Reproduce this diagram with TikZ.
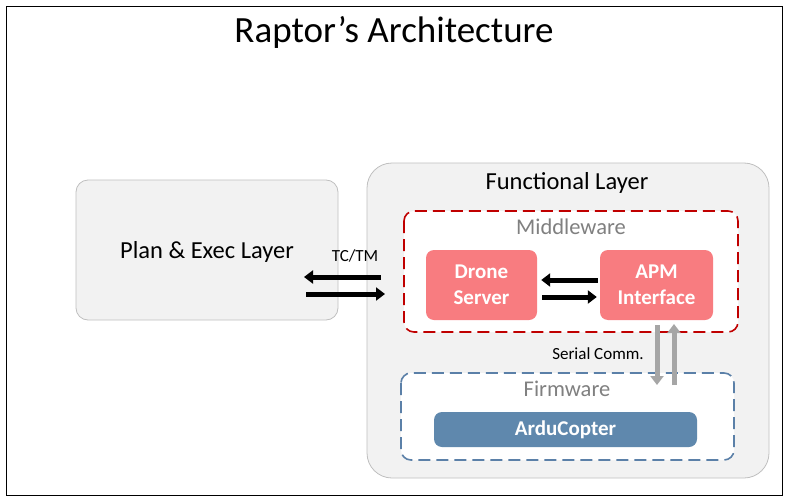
\documentclass[tikz,border=0pt]{standalone}
\usepackage{fontspec}
\setmainfont{Carlito}
\usetikzlibrary{arrows.meta}
\definecolor{boxgray}{HTML}{F2F2F2}
\definecolor{boxedge}{HTML}{BFBFBF}
\definecolor{salmon}{HTML}{F87C80}
\definecolor{mwred}{HTML}{C00000}
\definecolor{fwblue}{HTML}{5B80A8}
\definecolor{ardu}{HTML}{5F88AD}
\definecolor{labgray}{HTML}{808080}
\definecolor{sergray}{HTML}{A6A6A6}
\tikzset{
  layerbox/.style={draw=boxedge, fill=boxgray, line width=0.8pt},
  compbox/.style={fill=salmon, rounded corners=8pt, text=white, font=\fontsize{21}{24}\selectfont\bfseries, align=center, inner sep=0pt},
  blk/.style={line width=5pt, -{Triangle[length=9pt,width=13pt]}},
  gry/.style={draw=sergray, line width=5pt, -{Triangle[length=9pt,width=13pt]}},
  lab/.style={text=labgray, font=\fontsize{22.5}{26}\selectfont},
  dashbox/.style={fill=white, line width=1.6pt, dash pattern=on 12pt off 6pt, rounded corners=10pt},
}
\begin{document}
\begin{tikzpicture}[x=1pt,y=-1pt]
\useasboundingbox (0,0) rectangle (789,503);
\draw[black, line width=0.8pt] (6,6) rectangle (782,495);
\node[font=\fontsize{37}{42}\selectfont] (title) at (394,32) {Raptor’s Architecture};
% Plan & Exec
\draw[layerbox, rounded corners=12pt] (76,180) rectangle (338,320);
\node[font=\fontsize{24.5}{28}\selectfont] (plan) at (207,251.5) {Plan \& Exec Layer};
% Functional layer
\draw[layerbox, rounded corners=25pt] (367,163) rectangle (769,478);
\node[font=\fontsize{24.5}{28}\selectfont] (func) at (567,182.5) {Functional Layer};
% Middleware
\draw[dashbox, draw=mwred] (404,211) rectangle (738,332);
\node[lab] (mw) at (571,227) {Middleware};
\node[compbox, minimum width=111pt, minimum height=70pt] (drone) at (481.5,285) {Drone\\[2pt]Server};
\node[compbox, minimum width=113pt, minimum height=70pt] (apm) at (656.5,285) {APM\\[2pt]Interface};
% Firmware
\draw[dashbox, draw=fwblue] (401,373) rectangle (734,460);
\node[lab] (fw) at (567,389) {Firmware};
\node[fill=ardu, rounded corners=8pt, text=white, font=\fontsize{21}{24}\selectfont\bfseries, minimum width=263pt, minimum height=35pt, inner sep=0pt] (ardu) at (565.5,429.5) {ArduCopter};
% TC/TM arrows
\node[font=\fontsize{17}{20}\selectfont] (tctm) at (355,256) {TC/TM};
\coordinate (a1s) at (381,277);
\coordinate (a1e) at (304,277);
\coordinate (a2s) at (306,294);
\coordinate (a2e) at (385,294);
\draw[blk] (a1s) -- (a1e);
\draw[blk] (a2s) -- (a2e);
% drone <-> apm
\draw[blk] ([xshift=-2pt,yshift=5pt]apm.west) -- ([xshift=4pt,yshift=5pt]drone.east);
\draw[blk] ([xshift=5pt,yshift=-12pt]drone.east) -- ([xshift=-3pt,yshift=-12pt]apm.west);
% serial
\node[font=\fontsize{17}{20}\selectfont] (serial) at (598,354) {Serial Comm.};
\coordinate (s1s) at (657,325);
\coordinate (s1e) at (657,385);
\coordinate (s2s) at (674,385);
\coordinate (s2e) at (674,324);
\draw[gry] (s1s) -- (s1e);
\draw[gry] (s2s) -- (s2e);
\end{tikzpicture}
\end{document}
